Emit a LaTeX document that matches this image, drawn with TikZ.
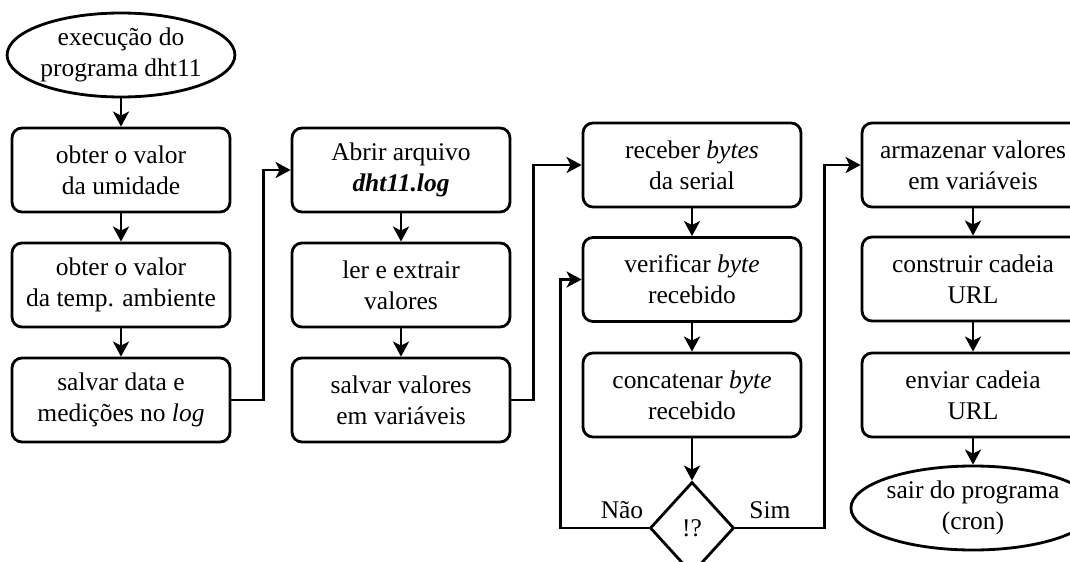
\documentclass[tikz,border=0pt]{standalone}
\usepackage{fontspec}
\setmainfont{Liberation Serif}
\usepackage{tikz}
\usetikzlibrary{shapes.geometric,arrows.meta}

\tikzset{
  passo/.style={draw, line width=1.6pt, rounded corners=0.2cm, align=center,
    minimum width=4.36cm, minimum height=1.68cm, inner sep=2pt},
  terminal/.style={draw, ellipse, line width=1.6pt, align=center,
    minimum width=4.44cm, minimum height=1.68cm, inner sep=0pt},
  decisao/.style={draw, diamond, line width=1.6pt, aspect=0.91,
    minimum width=1.68cm, minimum height=1.84cm, inner sep=0pt},
  seta/.style={line width=1.6pt, -{Stealth[length=0.3cm,width=0.32cm,inset=0.08cm]}}
}

\begin{document}
\begin{tikzpicture}[font=\fontsize{14.5}{17.6}\selectfont]
        \useasboundingbox (0,0) rectangle (21.4,11.22);

        % Coluna 1: leitura do sensor
        \node[terminal] (inicio) at (2.42,10.12) {execução do\\programa dht11};
        \node[passo] (umid) at (2.42,7.82) {obter o valor\\da umidade};
        \node[passo] (temp) at (2.42,5.52) {obter o valor\\da temp. ambiente};
        \node[passo] (salvalog) at (2.42,3.22) {salvar data e\\medições no \textit{log}};

        % Coluna 2: leitura do arquivo
        \node[passo] (abrir) at (8.02,7.82) {Abrir arquivo\\\textbf{\textit{dht11.log}}};
        \node[passo] (ler) at (8.02,5.52) {ler e extrair\\valores};
        \node[passo] (salvavar) at (8.02,3.22) {salvar valores\\em variáveis};

        % Coluna 3: serial
        \node[passo] (receber) at (13.84,7.92) {receber \textit{bytes}\\da serial};
        \node[passo] (verificar) at (13.84,5.63) {verificar \textit{byte}\\recebido};
        \node[passo] (concat) at (13.84,3.32) {concatenar \textit{byte}\\recebido};
        \node[decisao] (fim) at (13.84,0.66) {!?};
        \node (nao) at (12.44,1.02) {Não};
        \node (sim) at (15.4,1.02) {Sim};

        % Coluna 4: envio
        \node[passo, minimum width=4.44cm] (armazenar) at (19.46,7.92) {armazenar valores\\em variáveis};
        \node[passo, minimum width=4.44cm] (construir) at (19.46,5.64) {construir cadeia\\URL};
        \node[passo, minimum width=4.44cm] (enviar) at (19.46,3.32) {enviar cadeia\\URL};
        \node[terminal] (sair) at (19.46,1.06) {sair do programa\\(cron)};

        % Setas
        \draw[seta] (inicio) -- (umid);
        \draw[seta] (umid) -- (temp);
        \draw[seta] (temp) -- (salvalog);
        \draw[seta] (salvalog.east) -- ++(0.64,0) |- (abrir.west);
        \draw[seta] (abrir) -- (ler);
        \draw[seta] (ler) -- (salvavar);
        \draw[seta] (salvavar.east) -- ++(0.44,0) |- (receber.west);
        \draw[seta] (receber) -- (verificar);
        \draw[seta] (verificar) -- (concat);
        \draw[seta] (concat) -- (fim);
        \draw[seta] (fim.west) -- ++(-1.76,0) |- (verificar.west);
        \draw[seta] (fim.east) -- ++(1.78,0) |- (armazenar.west);
        \draw[seta] (armazenar) -- (construir);
        \draw[seta] (construir) -- (enviar);
        \draw[seta] (enviar) -- (sair);
    \end{tikzpicture}
\end{document}
